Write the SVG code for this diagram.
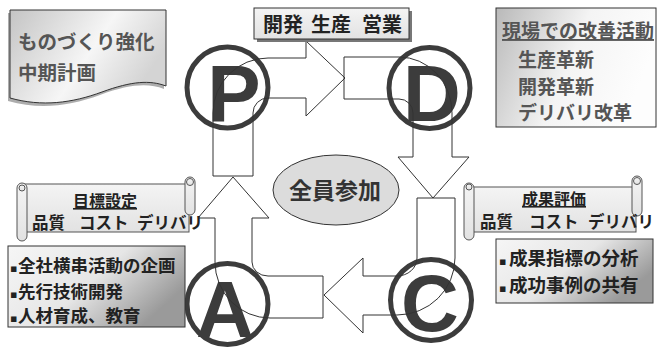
<svg xmlns="http://www.w3.org/2000/svg" width="657" height="350" viewBox="0 0 657 350">
<defs>
<linearGradient id="gDoc" x1="0" y1="0" x2="1" y2="0.4">
<stop offset="0" stop-color="#c4c4c4"/><stop offset="0.6" stop-color="#f6f6f6"/><stop offset="1" stop-color="#d4d4d4"/>
</linearGradient>
<linearGradient id="gKai" x1="0" y1="0" x2="1" y2="0.3">
<stop offset="0" stop-color="#b9b9b9"/><stop offset="0.55" stop-color="#f4f4f4"/><stop offset="1" stop-color="#fdfdfd"/>
</linearGradient>
<linearGradient id="gBox" x1="0" y1="0" x2="1" y2="0.5">
<stop offset="0" stop-color="#f6f6f6"/><stop offset="0.55" stop-color="#e6e6e6"/><stop offset="1" stop-color="#9a9a9a"/>
</linearGradient>
<linearGradient id="gLight" x1="0" y1="0" x2="0" y2="1">
<stop offset="0" stop-color="#f4f4f4"/><stop offset="1" stop-color="#e2e2e2"/>
</linearGradient>
<style>
.jp{font-family:"Noto Sans CJK JP","Noto Sans",sans-serif;font-weight:bold}
.dk{fill:#222}
.gy{fill:#555}
.ln{fill:none;stroke:#333;stroke-width:1}
.ring{fill:none;stroke:#3c3c3c;stroke-width:5}
.let{font-family:"Liberation Sans",Arial,sans-serif;font-weight:bold;font-size:80px;fill:#3c3c3c;text-anchor:middle}
.scr{fill:url(#gLight);stroke:#555;stroke-width:1}
.bul{font-family:"DejaVu Sans",sans-serif;font-size:11px;fill:#222}
</style>
</defs>
<rect width="657" height="350" fill="#fff"/>

<g id="circle-P"><circle class="ring" cx="227.5" cy="87.5" r="40.5"/><text class="let" x="234" y="121">P</text></g>
<g id="circle-D"><circle class="ring" cx="429.5" cy="88" r="40.5"/><text class="let" x="432" y="121">D</text></g>
<g id="circle-A"><circle class="ring" cx="227.5" cy="304" r="40.5"/><text class="let" x="225" y="337" font-size="78">A</text></g>
<g id="circle-C"><circle class="ring" cx="431" cy="300" r="40.5"/><text class="let" x="430" y="331">C</text></g>

<g id="connectors">
<path class="ln" d="M213,176 L213,113 A55,55 0 0 1 268,58 L306,58 L306,41 L345,78 L306,116 L306,98 L268,98 A15,15 0 0 0 253,113 L253,176 Z"/>
<path class="ln" d="M344,57 L399,57 A53,56 0 0 1 452,113 L452,157 L469,157 L433,198 L398,157 L413,157 L413,113 A14,14 0 0 0 399,99 L344,99 Z"/>
<path class="ln" d="M417,198 L455,198 L455,258 A58,57 0 0 1 397,315 L363,315 L363,333 L324,295 L363,258 L363,276 L397,276 A20,18 0 0 0 417,258 Z"/>
<path class="ln" d="M323,276 L268,276 A16,14 0 0 1 252,262 L252,218 L269,218 L233,177 L198,218 L215,218 L215,262 A55,56 0 0 0 270,318 L323,318 Z"/>
</g>

<g id="doc-plan">
<path d="M8,13 L164,13 L164,89 C148,83 130,84 100,95 C70,106 40,110 8,101 Z" fill="#8a8a8a" opacity="0.7"/>
<path d="M10,10 L166,10 L166,86 C150,80 132,81 102,92 C72,103 42,107 10,98 Z" fill="url(#gDoc)" stroke="#333" stroke-width="1"/>
<text class="jp gy" x="18" y="49" font-size="19.5">ものづくり強化</text>
<text class="jp gy" x="18" y="80" font-size="19.5">中期計画</text>
</g>

<g id="box-top">
<rect x="257" y="11" width="155" height="31" fill="#777"/>
<rect x="254" y="8" width="155" height="31" fill="url(#gLight)" stroke="#333" stroke-width="1"/>
<text class="jp dk" y="31.5" font-size="20"><tspan x="263">開発</tspan><tspan x="311">生産</tspan><tspan x="362">営業</tspan></text>
</g>

<g id="box-kaizen">
<rect x="496" y="8" width="160" height="119" fill="url(#gKai)" stroke="#333" stroke-width="1"/>
<text class="jp gy" x="502" y="38" font-size="19" text-decoration="underline">現場での改善活動</text>
<text class="jp gy" x="518" y="67" font-size="19">生産革新</text>
<text class="jp gy" x="518" y="94" font-size="19">開発革新</text>
<text class="jp gy" x="518" y="120" font-size="19">デリバリ改革</text>
</g>

<g id="ellipse-all">
<ellipse cx="336" cy="190" rx="63" ry="35" fill="#dcdcdc" stroke="#333" stroke-width="1"/>
<text class="jp" x="335" y="199" font-size="23" fill="#333" text-anchor="middle">全員参加</text>
</g>

<g id="scroll-goal">
<rect class="scr" x="24" y="184" width="165" height="48"/>
<rect class="scr" x="17" y="183" width="10" height="58" rx="5"/>
<rect class="scr" x="185" y="177" width="10" height="38" rx="5"/>
<circle class="scr" cx="22" cy="188" r="3"/>
<circle class="scr" cx="190" cy="182" r="3.5"/>
<text class="jp dk" x="105" y="207" font-size="16" text-anchor="middle" text-decoration="underline">目標設定</text>
<text class="jp dk" y="229" font-size="16.5"><tspan x="32">品質</tspan><tspan x="79">コスト</tspan><tspan x="137">デリバリ</tspan></text>
</g>

<g id="box-plan">
<rect x="8" y="246" width="177" height="81" fill="url(#gBox)" stroke="#333" stroke-width="1"/>
<text class="dk" y="271.5"><tspan class="bul" x="10">▪</tspan><tspan class="jp" x="18" font-size="17.5">全社横串活動の企画</tspan></text>
<text class="dk" y="297.5"><tspan class="bul" x="10">▪</tspan><tspan class="jp" x="18" font-size="17.5">先行技術開発</tspan></text>
<text class="dk" y="321.5"><tspan class="bul" x="10">▪</tspan><tspan class="jp" x="18" font-size="17.5">人材育成、教育</tspan></text>
</g>

<g id="scroll-eval">
<rect class="scr" x="471" y="187" width="165" height="45"/>
<rect class="scr" x="464" y="183" width="10" height="57" rx="5"/>
<rect class="scr" x="632" y="176" width="10" height="40" rx="5"/>
<circle class="scr" cx="469" cy="187" r="3"/>
<circle class="scr" cx="637" cy="181" r="3.5"/>
<text class="jp dk" x="554" y="205" font-size="16" text-anchor="middle" text-decoration="underline">成果評価</text>
<text class="jp dk" y="228" font-size="16.5"><tspan x="480">品質</tspan><tspan x="529">コスト</tspan><tspan x="588">デリバリ</tspan></text>
</g>

<g id="box-check">
<rect x="496" y="239" width="157" height="64" fill="url(#gBox)" stroke="#333" stroke-width="1"/>
<text class="dk" y="265"><tspan class="bul" x="499" font-size="12">▪</tspan><tspan class="jp" x="509" font-size="18.5">成果指標の分析</tspan></text>
<text class="dk" y="292"><tspan class="bul" x="499" font-size="12">▪</tspan><tspan class="jp" x="509" font-size="18.5">成功事例の共有</tspan></text>
</g>
</svg>
